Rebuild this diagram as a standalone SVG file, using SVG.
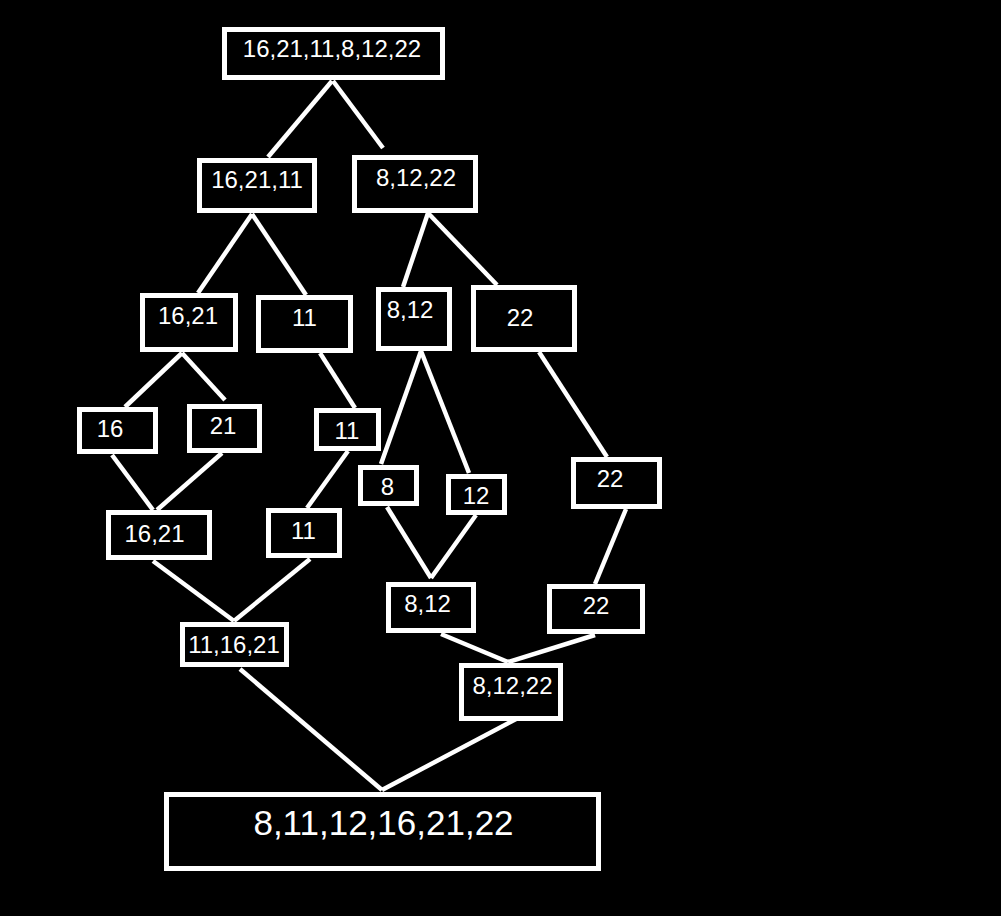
<svg xmlns="http://www.w3.org/2000/svg" width="1001" height="916" viewBox="0 0 1001 916">
<style>
.n rect{fill:#000;stroke:#fff;stroke-width:5}
.n text{fill:#fff;font-family:"Liberation Sans",Arial,sans-serif;font-size:24px;text-anchor:middle}
#edges line{stroke:#fff;stroke-width:4.5}
</style>
<rect width="1001" height="916" fill="#000"/>
<g id="edges">
<line x1="332" y1="81" x2="268" y2="157"/>
<line x1="333" y1="81" x2="383" y2="148"/>
<line x1="252" y1="214" x2="198" y2="293"/>
<line x1="252" y1="214" x2="306" y2="295"/>
<line x1="428" y1="213" x2="403" y2="287"/>
<line x1="428" y1="213" x2="497" y2="285"/>
<line x1="182" y1="353" x2="125" y2="407"/>
<line x1="182" y1="353" x2="225" y2="400"/>
<line x1="320" y1="353" x2="355" y2="408"/>
<line x1="421" y1="351" x2="381" y2="464"/>
<line x1="421" y1="351" x2="469" y2="473"/>
<line x1="539" y1="352" x2="607" y2="457"/>
<line x1="112" y1="455" x2="153" y2="510"/>
<line x1="222" y1="453" x2="157" y2="510"/>
<line x1="348" y1="451" x2="307" y2="508"/>
<line x1="387" y1="507" x2="431" y2="578"/>
<line x1="476" y1="515" x2="431" y2="578"/>
<line x1="626" y1="509" x2="595" y2="584"/>
<line x1="153" y1="561" x2="234" y2="621"/>
<line x1="310" y1="559" x2="234" y2="621"/>
<line x1="441" y1="634" x2="508" y2="662"/>
<line x1="595" y1="635" x2="508" y2="662"/>
<line x1="240" y1="669" x2="382" y2="790"/>
<line x1="518" y1="718" x2="382" y2="790"/>
</g>
<g id="n1" class="n"><rect x="224.5" y="29.5" width="218" height="48"/><text x="332" y="57">16,21,11,8,12,22</text></g>
<g id="n2" class="n"><rect x="199.5" y="160.5" width="115" height="50"/><text x="257" y="188">16,21,11</text></g>
<g id="n3" class="n"><rect x="354.5" y="157.5" width="121" height="53"/><text x="416" y="186">8,12,22</text></g>
<g id="n4" class="n"><rect x="142.5" y="295.5" width="93" height="54"/><text x="188" y="324">16,21</text></g>
<g id="n5" class="n"><rect x="258.5" y="297.5" width="92" height="53"/><text x="304.5" y="326">11</text></g>
<g id="n6" class="n"><rect x="378.5" y="289.5" width="71" height="59"/><text x="410" y="318">8,12</text></g>
<g id="n7" class="n"><rect x="473.5" y="287.5" width="101" height="62"/><text x="520" y="326">22</text></g>
<g id="n8" class="n"><rect x="79.5" y="409.5" width="76" height="42"/><text x="110" y="437">16</text></g>
<g id="n9" class="n"><rect x="189.5" y="406.5" width="70" height="44"/><text x="223" y="434">21</text></g>
<g id="n10" class="n"><rect x="316.5" y="410.5" width="62" height="38"/><text x="347" y="439">11</text></g>
<g id="n11" class="n"><rect x="360.5" y="467.5" width="56" height="36"/><text x="387.5" y="495">8</text></g>
<g id="n12" class="n"><rect x="448.5" y="476.5" width="56" height="36"/><text x="476" y="504">12</text></g>
<g id="n13" class="n"><rect x="573.5" y="459.5" width="86" height="47"/><text x="610" y="487">22</text></g>
<g id="n14" class="n"><rect x="108.5" y="512.5" width="101" height="45"/><text x="154.5" y="542">16,21</text></g>
<g id="n15" class="n"><rect x="268.5" y="510.5" width="71" height="45"/><text x="303.5" y="539">11</text></g>
<g id="n16" class="n"><rect x="388.5" y="584.5" width="85" height="46"/><text x="427.5" y="612">8,12</text></g>
<g id="n17" class="n"><rect x="549.5" y="586.5" width="93" height="45"/><text x="596" y="614">22</text></g>
<g id="n18" class="n"><rect x="182.5" y="624.5" width="104" height="40"/><text x="234" y="653">11,16,21</text></g>
<g id="n19" class="n"><rect x="461.5" y="665.5" width="99" height="53"/><text x="512.5" y="694">8,12,22</text></g>
<g id="n20" class="n"><rect x="166.5" y="794.5" width="432" height="74"/><text x="383.5" y="835" style="font-size:35px">8,11,12,16,21,22</text></g>
</svg>
